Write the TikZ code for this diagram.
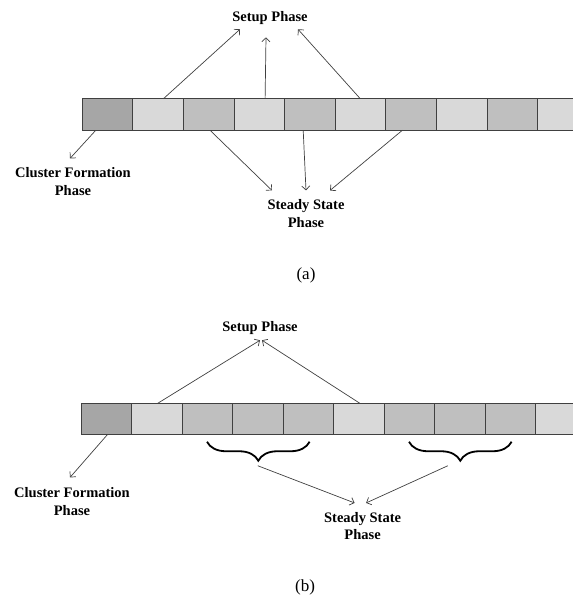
\documentclass[tikz,border=0pt]{standalone}
\usepackage{fontspec}
\setmainfont{Liberation Serif}
\usepackage{xcolor}
\definecolor{cfdark}{RGB}{166,166,166}
\definecolor{ssmid}{RGB}{191,191,191}
\definecolor{suplight}{RGB}{217,217,217}
\definecolor{arrowgray}{RGB}{64,64,64}
\usepackage{tikz}
\usetikzlibrary{arrows.meta}
\usetikzlibrary{calc}
\usetikzlibrary{decorations.pathreplacing}

\tikzset{
  slot/.style={draw=black!75,line width=0.6pt,minimum width=50.6pt,minimum height=31.5pt,inner sep=0pt,outer sep=0pt},
  phase/.style={font=\fontsize{14.5}{17.5}\selectfont\bfseries,align=center,inner sep=0pt},
  link/.style={draw=arrowgray,line width=0.7pt,-{Straight Barb[length=4pt,width=8pt]}},
  roundbrace/.style={decorate,decoration={brace,mirror,amplitude=19pt},line width=1.8pt},
  caption/.style={font=\fontsize{17}{20}\selectfont,inner sep=0pt}
}

\begin{document}
\begin{tikzpicture}[x=1pt,y=-1pt]
\useasboundingbox (0,0) rectangle (573,600);

% (a) one setup slot between steady state slots
\foreach \i/\tone in {0/cfdark,1/suplight,2/ssmid,3/suplight,4/ssmid,5/suplight,6/ssmid,7/suplight,8/ssmid,9/suplight}
  \node[slot,fill=\tone] (a\i) at ({107.3+50.6*\i},114.5) {};

\node[phase] (setupA) at (270,18.5) {Setup Phase};
\node[phase] (clusterA) at (73,181.5) {Cluster Formation\\Phase};
\node[phase] (steadyA) at (306,213.5) {Steady State\\Phase};

\draw[link] ([xshift=5.5pt]a1.north) -- ([xshift=-30pt,yshift=-4pt]setupA.south);
\draw[link] ([xshift=6pt]a3.north) -- ([xshift=-4pt,yshift=-12pt]setupA.south);
\draw[link] (a5.north) -- ([xshift=28pt,yshift=-4pt]setupA.south);
\draw[link] ([xshift=-11.5pt]a0.south) -- ([xshift=-3pt,yshift=9pt]clusterA.north);
\draw[link] ([xshift=1.5pt]a2.south) -- ([xshift=-34pt,yshift=9pt]steadyA.north);
\draw[link] ([xshift=-6.5pt]a4.south) -- ([yshift=9pt]steadyA.north);
\draw[link] ([xshift=-8.5pt]a6.south) -- ([xshift=24pt,yshift=9pt]steadyA.north);

\node[caption] (capA) at (306,275) {(a)};

% (b) several steady state slots per round
\foreach \i/\tone in {0/cfdark,1/suplight,2/ssmid,3/ssmid,4/ssmid,5/suplight,6/ssmid,7/ssmid,8/ssmid,9/suplight}
  \node[slot,fill=\tone] (b\i) at ({106.3+50.5*\i},419) {};

\node[phase] (setupB) at (260,328.5) {Setup Phase};
\node[phase] (clusterB) at (72,501.5) {Cluster Formation\\Phase};
\node[phase] (steadyB) at (362.6,526) {Steady State\\Phase};

\draw[roundbrace] ([xshift=25pt,yshift=-7pt]b2.south west) -- ([xshift=-24pt,yshift=-7pt]b4.south east);
\draw[roundbrace] ([xshift=25pt,yshift=-7pt]b6.south west) -- ([xshift=-24pt,yshift=-7pt]b8.south east);
\coordinate (tipL) at ($(b2.south west)!0.5!(b4.south east)+(0,31)$);
\coordinate (tipR) at ($(b6.south west)!0.5!(b8.south east)+(-12,31)$);

\draw[link] ([xshift=1pt]b1.north) -- ([yshift=-5pt]setupB.south);
\draw[link] ([xshift=1pt]b5.north) -- ([xshift=2pt,yshift=-5pt]setupB.south);
\draw[link] ([xshift=1pt]b0.south) -- ([xshift=-2pt,yshift=10pt]clusterB.north);
\draw[link] (tipL) -- ([xshift=-8pt,yshift=9pt]steadyB.north);
\draw[link] (tipR) -- ([xshift=3.5pt,yshift=9pt]steadyB.north);

\node[caption] (capB) at (305,587) {(b)};
\end{tikzpicture}
\end{document}
